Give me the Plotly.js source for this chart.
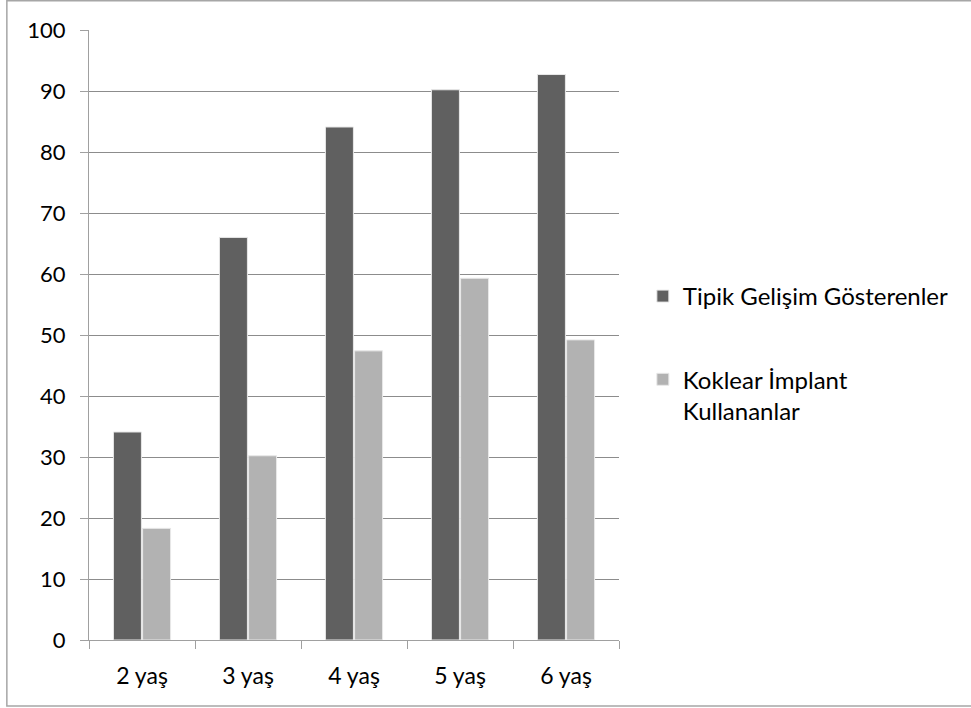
<!DOCTYPE html>
<html>
<head>
<meta charset="utf-8">
<script src="https://cdn.plot.ly/plotly-3.0.1.min.js"></script>
<style>html,body{margin:0;padding:0;background:#fff;}#chart{width:971px;height:708px;}</style>
</head>
<body>
<div id="chart"></div>
<script>
var categories = ["2 yaş", "3 yaş", "4 yaş", "5 yaş", "6 yaş"];
var seriesNames = ["Tipik Gelişim Gösterenler", "Koklear İmplant<br>Kullananlar"];
var tipikValues = [34.1, 66.0, 84.1, 90.2, 92.7];
var koklearValues = [18.3, 30.2, 47.4, 59.3, 49.2];
var yTicks = [0, 10, 20, 30, 40, 50, 60, 70, 80, 90, 100];

var font = "Lato, 'Open Sans', 'DejaVu Sans', sans-serif";

var traces = [
  {type: "bar", x: categories, y: tipikValues, name: seriesNames[0], legendgroup: "a",
   marker: {color: "#606060", line: {color: "#e8e8e8", width: 1}}},
  {type: "bar", x: categories, y: koklearValues, name: seriesNames[1], legendgroup: "b",
   marker: {color: "#b2b2b2", line: {color: "#e8e8e8", width: 1}}}
];

var layout = {
  width: 971, height: 708,
  margin: {l: 89, r: 352, t: 30, b: 68, pad: 0},
  paper_bgcolor: "#fff", plot_bgcolor: "#fff",
  barmode: "group", bargap: 0.45, bargroupgap: 0.04,
  font: {family: font, size: 22, color: "#000"},
  showlegend: true,
  legend: {x: 1.045, y: 0.60, xanchor: "left", yanchor: "top", tracegroupgap: 49,
           font: {family: font, size: 24, color: "#000"}, valign: "top",
           itemwidth: 30, bgcolor: "rgba(0,0,0,0)"},
  xaxis: {type: "category", showline: true, linecolor: "#a0a0a0", linewidth: 1,
          ticks: "outside", tickson: "boundaries", ticklen: 8, tickcolor: "#a0a0a0",
          ticklabelstandoff: 15,
          showgrid: false, zeroline: false, tickfont: {family: font, size: 23, color: "#000"}},
  yaxis: {range: [0, 100], tickvals: yTicks, showline: true, linecolor: "#a0a0a0", linewidth: 1,
          ticks: "outside", ticklen: 8, tickcolor: "#a0a0a0", ticklabelstandoff: 10,
          showgrid: true, gridcolor: "#8c8c8c", gridwidth: 1, zeroline: false,
          tickfont: {family: font, size: 22, color: "#000"}},
  shapes: [
    {type: "rect", xref: "paper", yref: "paper", x0: -0.155, x1: 1.8, y0: -0.108, y1: 1.048,
     line: {color: "#a6a6a6", width: 1.5}, fillcolor: "rgba(0,0,0,0)", layer: "below"}
  ]
};

Plotly.newPlot("chart", traces, layout, {displayModeBar: false, staticPlot: true});
</script>
</body>
</html>
